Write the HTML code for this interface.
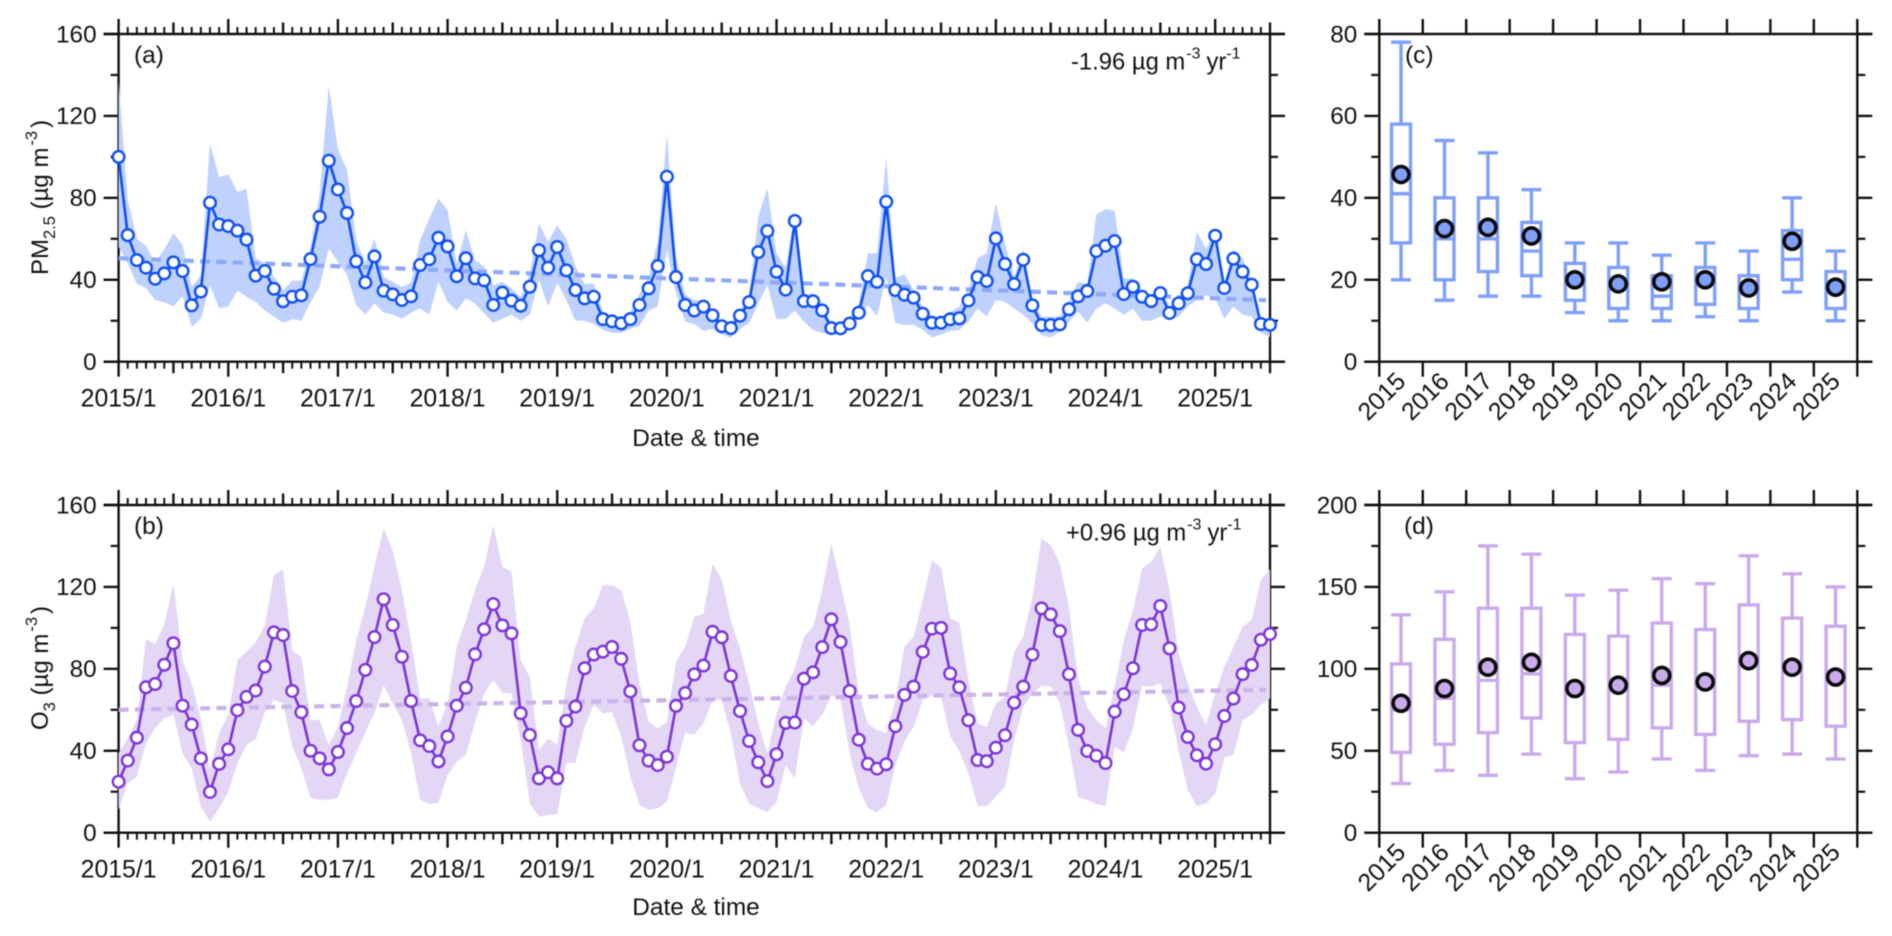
<!DOCTYPE html>
<html lang="en">
<head>
<meta charset="utf-8">
<title>PM2.5 and O3 monthly time series and annual box plots</title>
<style>
  html, body { margin: 0; padding: 0; background: #fff; }
  svg { display: block; filter: blur(0.45px); }
  text { font-family: "Liberation Sans", Arial, sans-serif; fill: #111; }
</style>
</head>
<body>
<svg id="figure" xmlns="http://www.w3.org/2000/svg" width="1892" height="936" viewBox="0 0 1892 936">
  <rect x="0" y="0" width="1892" height="936" fill="#ffffff"/>
  <g id="layer-charts"></g>

  <text transform="translate(48,275) rotate(-90)" font-size="24">PM<tspan dy="7" font-size="16.5">2.5</tspan><tspan dy="-7"> (µg m</tspan><tspan dy="-11" dx="2" font-size="16.5">-3</tspan><tspan dy="11" dx="3">)</tspan></text>
  <text transform="translate(48,730) rotate(-90)" font-size="24">O<tspan dy="7" font-size="16.5">3</tspan><tspan dy="-7"> (µg m</tspan><tspan dy="-11" dx="2" font-size="16.5">-3</tspan><tspan dy="11" dx="3">)</tspan></text>

  <text x="696" y="446" font-size="24.4" text-anchor="middle">Date &amp; time</text>
  <text x="696" y="915" font-size="24.4" text-anchor="middle">Date &amp; time</text>

  <text x="134" y="63" font-size="24.5">(a)</text>
  <text x="134" y="534" font-size="24.5">(b)</text>
  <text x="1405" y="63" font-size="24.5">(c)</text>
  <text x="1404" y="534" font-size="24.5">(d)</text>

  <text x="1071" y="69.5" font-size="23.8">-1.96 µg m<tspan dy="-11" dx="1" font-size="16">-3</tspan><tspan dy="11" dx="6">yr</tspan><tspan dy="-11" font-size="16">-1</tspan></text>
  <text x="1066" y="540.5" font-size="23.8">+0.96 µg m<tspan dy="-11" dx="1" font-size="16">-3</tspan><tspan dy="11" dx="6">yr</tspan><tspan dy="-11" font-size="16">-1</tspan></text>
</svg>

<script>
// ---------- Time-series data (monthly, 2015/1 .. 2025/7) ----------
const yearTickLabels = ['2015/1','2016/1','2017/1','2018/1','2019/1','2020/1','2021/1','2022/1','2023/1','2024/1','2025/1'];

const pm25Mean = [
  100,61.8,49.6,45.9,40.5,43.1,48.5,44.3,27.5,34.3,
  77.6,67,66.2,64,59.6,42,44.3,35.6,29.5,31.7,
  32.4,50.1,70.8,98.1,84.1,72.6,49,38.7,51.4,34.7,
  32.9,30.1,31.9,47.2,50,60.5,56.3,41.7,50.5,40.7,
  39.7,27.7,33.7,29.8,27.3,36.6,54.4,45.9,56,44.6,
  35,30.9,31.7,20.8,19.7,18.7,20.8,27.7,35.8,46.7,
  90.3,41.3,27.7,25,26.9,22.6,17.3,16.4,22.5,29.1,
  53.5,63.8,43.9,35.2,68.7,29.6,29.5,25,16.4,16.3,
  18.6,23.9,41.8,39,78.1,35,32.7,31.3,23.4,19,
  19,20.7,21.2,29.9,41.3,39.4,60.2,47.7,37.9,49.8,
  27.5,17.9,17.9,18.2,25.6,31.9,34.5,54,56.6,58.9,
  33,36.6,31.7,29.6,33.5,23.8,28.5,33.4,50,47.7,
  61.5,36,50.3,43.9,37.6,18.4,18
];
const pm25Upper = [
  137,79,60,56.6,48,55,62.7,57,36.6,42,
  106.6,90,91.6,82.8,84.6,50.5,48,41.5,35,39.5,
  39.5,56,82,134.6,103.8,93.6,59.4,48,60,41.5,
  39,36.6,38.5,59.4,70,79.6,74,48,64.3,49.6,
  46.4,37.4,39,35.8,31.7,43,67.5,58.6,66.6,60,
  46.4,38,38,24.4,22,22,24.4,33,41.5,58.6,
  111.5,51,33,30,30,24,20,19.5,25,33,
  70.8,84.6,53,46,72,33,33,28.5,18.7,18.7,
  22,28.5,53,53,100,40.7,42.8,35,26.9,22,
  22,24.4,26.9,35,50.5,53,77.3,57.8,41.5,55,
  30,22,22,22,30,39,38,72,74.5,73.7,
  40.7,40.7,35,32.5,36.6,26.9,32,37.4,63.5,55,
  65,38,55,50.5,40,20.3,21
];
const pm25Lower = [
  56,48,38,36,30,29,27,32,17,21,
  37.4,26,27,34.7,31.7,29.3,25,22,19,20.7,
  20,29,36.6,55.3,48.8,42.3,27.7,23,28.5,24,
  23,21,24,26,23,39,29.3,25,31,28.5,
  23.6,19,21,23,20,23,40,27,38.6,30,
  20,20,18.4,15.5,14,14,16,17.4,25,27,
  54.5,33.4,19.5,18.4,15,16,13.3,11.7,16,18.7,
  28.5,37.4,20.7,21,25,19.5,15.5,14,13,13.3,
  16,22,27.7,22.3,41.5,19,18,18,15.5,11.9,
  13.3,15,15.5,19.5,26,22,30,29.3,26,22.8,
  18.7,13,11.9,14.6,19.5,24.4,19,26,28.5,26,
  22.8,26,20,20,22,21,22,27,30,32.5,
  31,21,27,23,22,14,12
];
const pm25Trend = [50.5, 30];
const pm25TickValues = [0, 40, 80, 120, 160];
const pm25MinorValues = [20, 60, 100, 140];

const o3Mean = [
  24.9,35.2,46.4,71,72.6,82,92.5,62,52.8,36.3,
  19.9,33.6,40.7,59.8,66.3,69.4,81.1,97.8,96.5,69.2,
  58.8,40,36.3,30.9,39.4,51.1,64.3,79.5,95.5,114,
  101.4,85.9,64.3,45.1,42.3,34.8,47,62,70.8,87.1,
  99.3,111.6,101.2,97.3,58.3,47.7,26.5,29.5,26.5,54.6,
  61.6,80.3,87,88.4,90.7,84.9,69,42.7,35.2,33,
  37.1,61.9,68.2,77.3,81.6,98.1,95.4,76.5,59.4,44.8,
  34.4,25.2,38.3,53.6,53.8,75.2,78.3,90.6,104.2,93.1,
  69.2,45.4,33.6,31.3,33.4,52,67.3,71.3,88.3,99.6,
  100,77.7,71,54.9,35.5,34.9,41.5,47.6,63.5,71.3,
  87,109.5,106.6,98.4,77.3,50.2,39.9,37.6,34,59.1,
  67.6,80.3,101.4,101.7,110.7,90,61.1,46.7,37.8,33.7,
  43.2,57,65.5,77.4,81.9,94.2,97
];
const o3Upper = [
  38.8,46,55,94.5,92,102,121.7,84.3,72.9,56,
  30.6,48.5,57.5,84.4,88.4,92.9,101.4,125.8,128.6,88.7,
  85.9,55,55,42.8,51.8,71.3,94,110.3,129.9,148.6,
  138,118.5,94,65.6,65.6,51.7,63.2,90.8,103.8,118.5,
  129.9,150.2,129.9,127.4,84.3,76,40.4,46,42.8,72.9,
  90.8,104.6,109.5,120.9,120.9,118.5,103,72.9,54.2,50.9,
  54.2,83.5,90.8,105.5,106.8,131.5,123.4,103.8,90,72.9,
  53.3,38.7,58.2,71.3,80.2,95.7,100.6,118.5,141.3,121.7,
  101.4,68,53.3,50,48.8,64.7,90.8,95.7,113.6,132.8,
  129.6,104.6,102.7,74.5,53.3,51.7,63,66.4,88.4,95.7,
  115.2,143.7,140.5,131.5,110.3,75,61,55,51,71.3,
  94,108.7,129,132.2,139.6,118.5,87.5,72.9,61.5,52.5,
  68,81,90.8,100.6,103.8,123.4,128.7
];
const o3Lower = [
  11,24,27.4,43.6,51,55.9,57.5,38.8,31.4,12.7,
  5.4,11.9,20,33.9,42.8,45.6,59,64.8,63.2,42,
  31.6,17,16,16,17,29,39,48.9,58.3,72,
  63.2,55,38.8,16,14,14.7,28,34.7,38,54,
  68,74.6,68.4,68,45,14.3,7.8,8.6,9,34,
  34,51.8,62.4,58.3,59,47,27.4,13.5,11,12,
  15,32,48.9,48,53.4,64.8,64.8,48.5,24,14.3,
  12,10,15,33,26.5,55.9,52,57.5,67,64.8,
  38.8,21.7,12,10,13.5,33,44.5,51.8,64.8,67,
  66.4,47,39.6,29,13,13,17.6,22.5,45,61.6,
  68,71.6,71.6,63,42,17.3,16,14,13,42,
  39,51,71.6,71.3,73,61.5,40,20.8,13,14.3,
  18.9,36.8,38,55,57.5,62.4,65.6
];
const o3Trend = [60, 69.8];
const o3TickValues = [0, 40, 80, 120, 160];
const o3MinorValues = [20, 60, 100, 140];

// ---------- Annual box-plot data ----------
const boxYears = ['2015','2016','2017','2018','2019','2020','2021','2022','2023','2024','2025'];

const pm25BoxLow    = [20,15,16,16,12,10,10,11,10,17,10];
const pm25BoxQ1     = [29,20,22,21,15,13,13,14,13,20,13];
const pm25BoxMedian = [41,30,30,27,20,19,16,19,18,25,18];
const pm25BoxQ3     = [58,40,40,34,24,23,21,23,21,32,22];
const pm25BoxHigh   = [78,54,51,42,29,29,26,29,27,40,27];
const pm25BoxMean   = [45.7,32.5,32.8,30.7,20,19,19.5,20,18,29.4,18.2];
const pm25BoxTicks  = [0,20,40,60,80];
const pm25BoxMinor  = [10,30,50,70];

const o3BoxLow    = [30,38,35,48,33,37,45,38,47,48,45];
const o3BoxQ1     = [49,54,61,70,55,57,64,60,68,69,65];
const o3BoxMedian = [75,82,93,97,88,90,90,92,105,101,95];
const o3BoxQ3     = [103,118,137,137,121,120,128,124,139,131,126];
const o3BoxHigh   = [133,147,175,170,145,148,155,152,169,158,150];
const o3BoxMean   = [79,88,101,104,88,90,96,92,105,101,95];
const o3BoxTicks  = [0,50,100,150,200];
const o3BoxMinor  = [25,75,125,175];

// ---------- Drawing ----------
const SVGNS = 'http://www.w3.org/2000/svg';
const root = document.getElementById('layer-charts');

function make(tag, attrs, parent) {
  const el = document.createElementNS(SVGNS, tag);
  for (const k in attrs) el.setAttribute(k, attrs[k]);
  parent.appendChild(el);
  return el;
}
function line(parent, x1, y1, x2, y2, w) {
  return make('line', {x1, y1, x2, y2, stroke: '#111', 'stroke-width': w || 2}, parent);
}
function fmt(v) { return Math.round(v * 100) / 100; }

function linearY(top, bottom, max) {
  return v => bottom - (v / max) * (bottom - top);
}

function drawValueAxis(g, p, yOf, majors, minors) {
  const spine = make('g', {}, g);
  
  
  line(spine, p.left, p.top, p.left, p.bottom, 2.4);
  line(spine, p.right, p.top, p.right, p.bottom, 2.4);
  line(spine, p.left - 15, p.top, p.right + 15, p.top, 2.4);
  line(spine, p.left - 15, p.bottom, p.right + 15, p.bottom, 2.4);
  majors.forEach(v => {
    const y = yOf(v);
    line(spine, p.left - 15, y, p.left, y, 2.4);
    line(spine, p.right, y, p.right + 15, y, 2.4);
    const t = make('text', {x: p.left - 22, y: y + 8.3, 'font-size': 24.3, 'text-anchor': 'end'}, g);
    
    
    t.textContent = v;
  });
  minors.forEach(v => {
    const y = yOf(v);
    line(spine, p.left - 8, y, p.left, y, 2.2);
    line(spine, p.right, y, p.right + 8, y, 2.2);
  });
}

function drawTimePanel(p, mean, upper, lower, trend, majors, minors, colors) {
  const g = make('g', {}, root);
  
  
  const n = mean.length;
  const xOf = i => p.left + i * (p.right - p.left) / (n - 1);
  const yOf = linearY(p.top, p.bottom, 160);

  drawValueAxis(g, p, yOf, majors, minors);

  const ticks = make('g', {}, g);
  
  
  for (let i = 0; i < n; i++) {
    const len = i % 12 === 0 ? 15 : (i % 6 === 0 ? 11.5 : 7);
    const w = i % 6 === 0 ? 2.4 : 2;
    const x = xOf(i);
    line(ticks, x, p.top - len, x, p.top, w);
    line(ticks, x, p.bottom, x, p.bottom + len, w);
  }
  yearTickLabels.forEach((lab, k) => {
    const t = make('text', {x: xOf(k * 12), y: p.bottom + 45, 'font-size': 24.8, 'text-anchor': 'middle'}, g);
    
    
    t.textContent = lab;
  });

  let d = '';
  for (let i = 0; i < n; i++) d += (i ? 'L' : 'M') + fmt(xOf(i)) + ' ' + fmt(yOf(upper[i]));
  for (let i = n - 1; i >= 0; i--) d += 'L' + fmt(xOf(i)) + ' ' + fmt(yOf(lower[i]));
  const band = make('path', {d: d + 'Z', fill: colors.band}, g);
  
  

  const tr = make('line', {
    x1: xOf(0), y1: yOf(trend[0]), x2: xOf(n - 1) - 4, y2: yOf(trend[1]),
    stroke: colors.trend, 'stroke-width': 4.2, 'stroke-dasharray': '10 6.3'
  }, g);
  
  

  let ld = '';
  for (let i = 0; i < n; i++) ld += (i ? 'L' : 'M') + fmt(xOf(i)) + ' ' + fmt(yOf(mean[i]));
  const path = make('path', {d: ld, fill: 'none', stroke: colors.line, 'stroke-width': 2.6, 'stroke-linejoin': 'round'}, g);
  
  

  mean.forEach((v, i) => {
    const c = make('circle', {cx: fmt(xOf(i)), cy: fmt(yOf(v)), r: 5.8, fill: '#fff', stroke: colors.line, 'stroke-width': 2.4}, g);
    
    
  });
}

function drawBoxPanel(p, max, low, q1, med, q3, high, avg, majors, minors, color) {
  const g = make('g', {}, root);
  
  
  const n = boxYears.length;
  const step = (p.right - p.left) / n;
  const cx = i => p.left + (i + 0.5) * step;
  const yOf = linearY(p.top, p.bottom, max);

  drawValueAxis(g, p, yOf, majors, minors);

  const ticks = make('g', {}, g);
  
  
  for (let i = 0; i <= n; i++) {
    const x = p.left + i * step;
    line(ticks, x, p.top - 15, x, p.top, 2.4);
    line(ticks, x, p.bottom, x, p.bottom + 15, 2.4);
  }

  boxYears.forEach((yr, i) => {
    const x = cx(i);
    const box = make('g', {fill: 'none', stroke: color, 'stroke-width': 3.4}, g);
    
    
    make('line', {x1: x, y1: yOf(high[i]), x2: x, y2: yOf(q3[i])}, box);
    make('line', {x1: x, y1: yOf(q1[i]), x2: x, y2: yOf(low[i])}, box);
    make('line', {x1: x - 10, y1: yOf(high[i]), x2: x + 10, y2: yOf(high[i])}, box);
    make('line', {x1: x - 10, y1: yOf(low[i]), x2: x + 10, y2: yOf(low[i])}, box);
    make('rect', {x: x - 9.5, y: yOf(q3[i]), width: 19, height: yOf(q1[i]) - yOf(q3[i])}, box);
    make('line', {x1: x - 9.5, y1: yOf(med[i]), x2: x + 9.5, y2: yOf(med[i])}, box);

    const m = make('circle', {cx: x, cy: yOf(avg[i]), r: 8, fill: color, stroke: '#0a0a0a', 'stroke-width': 3.6}, g);
    
    

    const ax = x + 6, ay = p.bottom + 21;
    const t = make('text', {x: ax, y: ay, 'font-size': 24.8, 'text-anchor': 'end', transform: 'rotate(-45 ' + ax + ' ' + ay + ')'}, g);
    
    
    t.textContent = yr;
  });
}

const blue = {band: '#bfd1fe', trend: '#8fa9f8', line: '#0f50f2'};
const purple = {band: '#e3d7f5', trend: '#cbb3ea', line: '#7d35d8'};

drawTimePanel({name: 'pm25-series', left: 118.6, right: 1270, top: 34, bottom: 361.7},
  pm25Mean, pm25Upper, pm25Lower, pm25Trend, pm25TickValues, pm25MinorValues, blue);
drawTimePanel({name: 'o3-series', left: 118.6, right: 1270, top: 505, bottom: 832.7},
  o3Mean, o3Upper, o3Lower, o3Trend, o3TickValues, o3MinorValues, purple);
drawBoxPanel({name: 'pm25-annual', left: 1379.3, right: 1857.3, top: 34, bottom: 361.7}, 80,
  pm25BoxLow, pm25BoxQ1, pm25BoxMedian, pm25BoxQ3, pm25BoxHigh, pm25BoxMean, pm25BoxTicks, pm25BoxMinor, '#7f9ffb');
drawBoxPanel({name: 'o3-annual', left: 1379.3, right: 1857.3, top: 505, bottom: 832.7}, 200,
  o3BoxLow, o3BoxQ1, o3BoxMedian, o3BoxQ3, o3BoxHigh, o3BoxMean, o3BoxTicks, o3BoxMinor, '#c9aaea');
</script>
</body>
</html>
